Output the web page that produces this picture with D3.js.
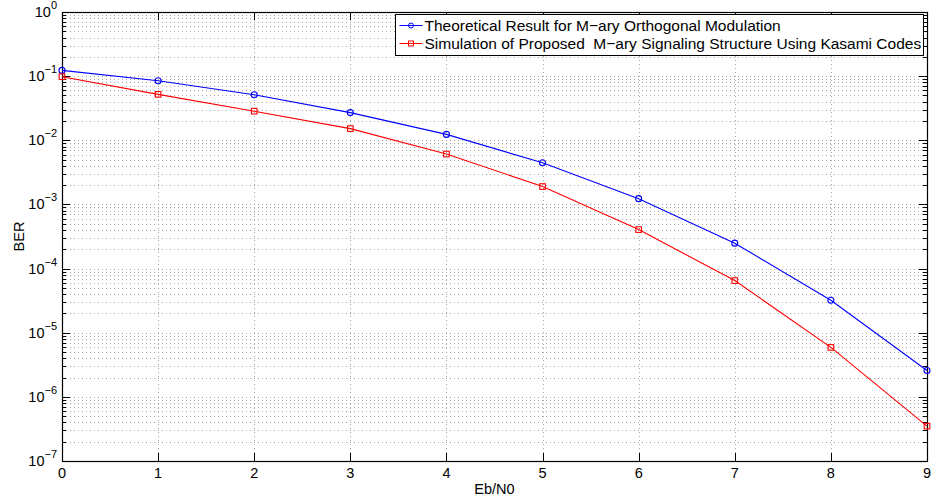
<!DOCTYPE html>
<html>
<head>
<meta charset="utf-8">
<script src="https://cdn.jsdelivr.net/npm/d3@7"></script>
<style>
  html, body { margin: 0; padding: 0; background: #fff; }
  svg { display: block; font-family: "Liberation Sans", Arial, Helvetica, sans-serif; }
  text { white-space: pre; }
</style>
</head>
<body>
<svg id="chart" width="931" height="499"></svg>
<script>
// Eb/N0 points (dB)
const ebn0 = [0, 1, 2, 3, 4, 5, 6, 7, 8, 9];
// Theoretical BER for M-ary orthogonal modulation
const berTheory = [0.123, 0.0848, 0.0512, 0.0270, 0.01236, 0.00446, 0.00123, 0.000249, 0.0000320, 0.00000257];
// Simulated BER, Kasami-code signaling structure
const berSim = [0.098, 0.0520, 0.0284, 0.0152, 0.0061, 0.00190, 0.000405, 0.0000650, 0.0000059, 0.00000035];
const xTicks = [0, 1, 2, 3, 4, 5, 6, 7, 8, 9];
const yDecades = [-7, -6, -5, -4, -3, -2, -1, 0];
const legendLabels = [
  "Theoretical Result for M\u2212ary Orthogonal Modulation",
  "Simulation of Proposed  M\u2212ary Signaling Structure Using Kasami Codes"
];
const colors = ["#0000ff", "#ff0000"];

const svg = d3.select("#chart");
const m = { left: 62, top: 12, right: 4, bottom: 38 };
const W = 931 - m.left - m.right, H = 499 - m.top - m.bottom;

const x = d3.scaleLinear().domain([0, 9]).range([0, W]);
const y = d3.scaleLog().domain([1e-7, 1]).range([H, 0]);

const g = svg.append("g").attr("transform", `translate(${m.left},${m.top})`);

// grid: vertical at integer Eb/N0, horizontal at every log step
const minorVals = [];
yDecades.slice(0, -1).forEach(d => {
  for (let k = 1; k <= 9; k++) minorVals.push(k * Math.pow(10, d));
});
minorVals.push(1);

const grid = g.append("g").attr("stroke", "#a6a6a6").attr("stroke-width", 1)
  .attr("stroke-dasharray", "1,3").attr("shape-rendering", "crispEdges");
grid.selectAll("line.h").data(minorVals).join("line")
  .attr("x1", 0).attr("x2", W)
  .attr("y1", d => Math.round(y(d)) + 0.5).attr("y2", d => Math.round(y(d)) + 0.5);
grid.selectAll("line.v").data(xTicks).join("line")
  .attr("y1", 0).attr("y2", H)
  .attr("x1", d => Math.round(x(d)) + 0.5).attr("x2", d => Math.round(x(d)) + 0.5);

// axes with inward ticks on all sides
const majorY = yDecades.map(d => Math.pow(10, d));
const axisL = d3.axisLeft(y).tickValues(majorY).tickSizeInner(-8).tickSizeOuter(0).tickFormat("");
const axisR = d3.axisRight(y).tickValues(majorY).tickSizeInner(-8).tickSizeOuter(0).tickFormat("");
const minorOnly = minorVals.filter(v => !majorY.includes(v));
const axisLm = d3.axisLeft(y).tickValues(minorOnly).tickSizeInner(-4).tickSizeOuter(0).tickFormat("");
const axisRm = d3.axisRight(y).tickValues(minorOnly).tickSizeInner(-4).tickSizeOuter(0).tickFormat("");
const axisB = d3.axisBottom(x).tickValues(xTicks).tickSizeInner(-8).tickSizeOuter(0).tickFormat("");
const axisT = d3.axisTop(x).tickValues(xTicks).tickSizeInner(-8).tickSizeOuter(0).tickFormat("");

function styleAxis(sel) {
  sel.selectAll("path").attr("stroke", "#000").attr("stroke-width", 1);
  sel.selectAll("line").attr("stroke", "#000").attr("stroke-width", 1);
  sel.attr("shape-rendering", "crispEdges");
}
g.append("g").call(axisL).call(styleAxis);
g.append("g").call(axisLm).call(styleAxis);
g.append("g").attr("transform", `translate(${W},0)`).call(axisR).call(styleAxis);
g.append("g").attr("transform", `translate(${W},0)`).call(axisRm).call(styleAxis);
g.append("g").attr("transform", `translate(0,${H})`).call(axisB).call(styleAxis);
g.append("g").call(axisT).call(styleAxis);
g.append("rect").attr("x", 0.5).attr("y", 0.5).attr("width", W).attr("height", H)
  .attr("fill", "none").attr("stroke", "#000").attr("stroke-width", 1.2);

// tick labels
g.append("g").selectAll("text").data(xTicks).join("text")
  .attr("x", d => x(d)).attr("y", H + 17)
  .attr("text-anchor", "middle").attr("font-size", 14.5).text(d => d);

const yl = g.append("g").selectAll("text").data(yDecades).join("text")
  .attr("x", -5).attr("y", d => y(Math.pow(10, d)) + 5)
  .attr("text-anchor", "end").attr("font-size", 14.5);
yl.append("tspan").text("10");
yl.append("tspan").attr("dy", -8).attr("font-size", 11)
  .text(d => d === 0 ? "0" : "\u2212" + Math.abs(d));

// axis titles
svg.append("text").attr("x", m.left + W / 2).attr("y", 494)
  .attr("text-anchor", "middle").attr("font-size", 14.5).text("Eb/N0");
svg.append("text").attr("transform", `translate(24,${m.top + H / 2}) rotate(-90)`)
  .attr("text-anchor", "middle").attr("font-size", 14.5).text("BER");

// series
const series = [
  { vals: berTheory, color: colors[0], marker: "circle" },
  { vals: berSim, color: colors[1], marker: "square" }
];
const line = d3.line().x(d => x(d[0])).y(d => y(d[1]));
const plot = g.append("g");
series.forEach(s => {
  const pts = ebn0.map((e, i) => [e, s.vals[i]]);
  plot.append("path").datum(pts).attr("d", line)
    .attr("fill", "none").attr("stroke", s.color).attr("stroke-width", 1.1);
  if (s.marker === "circle") {
    plot.selectAll(null).data(pts).join("circle")
      .attr("cx", d => x(d[0])).attr("cy", d => y(d[1])).attr("r", 3)
      .attr("fill", "none").attr("stroke", s.color).attr("stroke-width", 1.1);
  } else {
    plot.selectAll(null).data(pts).join("rect")
      .attr("x", d => x(d[0]) - 2.8).attr("y", d => y(d[1]) - 2.8)
      .attr("width", 5.6).attr("height", 5.6)
      .attr("fill", "none").attr("stroke", s.color).attr("stroke-width", 1.1);
  }
});

// legend
const lg = svg.append("g").attr("transform", "translate(395.5,14.5)");
lg.append("rect").attr("width", 528).attr("height", 41)
  .attr("fill", "#fff").attr("stroke", "#000").attr("stroke-width", 1);
legendLabels.forEach((t, i) => {
  const cy = 11 + i * 18;
  const row = lg.append("g");
  row.append("line").attr("x1", 4).attr("x2", 27).attr("y1", cy).attr("y2", cy)
    .attr("stroke", colors[i]).attr("stroke-width", 1);
  if (i === 0) {
    row.append("circle").attr("cx", 15.5).attr("cy", cy).attr("r", 2.5)
      .attr("fill", "none").attr("stroke", colors[i]);
  } else {
    row.append("rect").attr("x", 13).attr("y", cy - 2.5).attr("width", 5).attr("height", 5)
      .attr("fill", "none").attr("stroke", colors[i]);
  }
  row.append("text").attr("x", 29).attr("y", cy + 5.5).attr("font-size", 15.5).text(t);
});
</script>
</body>
</html>
